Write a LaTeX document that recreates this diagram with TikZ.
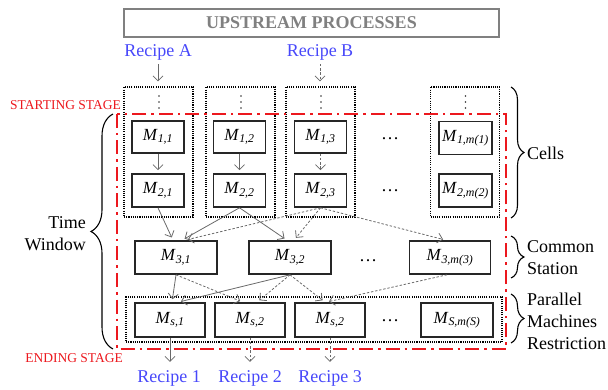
\documentclass[tikz,border=0pt]{standalone}
\usepackage{fontspec}
\setmainfont{Liberation Serif}
\usetikzlibrary{arrows.meta,decorations.pathreplacing}
\definecolor{upGray}{RGB}{128,128,128}
\definecolor{recBlue}{RGB}{72,72,250}
\definecolor{stageRed}{RGB}{236,24,30}
\definecolor{linkGray}{RGB}{105,105,105}
\newcommand{\mach}[1]{\textit{M}\textsubscript{\itshape #1}}

\begin{document}
\begin{tikzpicture}[x=1pt,y=-1pt,>={Straight Barb[length=5pt,width=10pt]}]
\tikzset{
mbox/.style={draw=black!85,line width=1.6pt,fill=white,minimum height=33pt,inner sep=0pt,
font=\fontsize{17}{18}\selectfont},
cellbox/.style={draw=black,line width=1.1pt,dash pattern=on 1.1pt off 1.1pt,
minimum width=69pt,minimum height=130pt,inner sep=0pt},
recipe/.style={text=recBlue,font=\fontsize{18}{20}\selectfont,inner sep=1pt},
stage/.style={text=stageRed,font=\fontsize{13.5}{15}\selectfont,anchor=east,inner sep=0pt},
side/.style={font=\fontsize{18}{22}\selectfont,align=left,anchor=west,inner sep=0pt},
etc/.style={font=\fontsize{18}{20}\selectfont,inner sep=0pt},
link/.style={->,draw=linkGray,line width=.8pt,shorten >=3pt},
dlink/.style={link,dash pattern=on 2.4pt off 1.8pt},
brc/.style={decorate,decoration={brace,amplitude=#1},line width=1.1pt}
}
\useasboundingbox (0,0) rectangle (608,390);

\node[draw=upGray,line width=1.5pt,minimum width=375pt,minimum height=28pt,text=upGray,
font=\bfseries\fontsize{18}{20}\selectfont] (up) at (311.5,23) {UPSTREAM PROCESSES};
\node[recipe] (recA) at (158,52) {Recipe A};
\node[recipe] (recB) at (320,52) {Recipe B};

\foreach \x/\n in {158.5/1,240.5/2,320.5/3,465/4} {
  \node[cellbox] (cell\n) at (\x,152) {};
  \foreach \y in {96,102,108} \fill[black!80] (\x+.5,\y) circle (.9pt);
}
\node[draw=black,line width=1.1pt,dash pattern=on 1.1pt off 1.1pt,minimum width=376pt,
minimum height=45pt,inner sep=0pt] (par) at (314,319.5) {};

\draw[stageRed,line width=2.4pt,dash pattern=on 14pt off 5pt on 2.5pt off 5pt]
  (117,114) rectangle (506,349);
\node[stage] (start) at (121,105) {STARTING STAGE};
\node[stage] (end) at (123,358) {ENDING STAGE};

\foreach \x/\n in {158/1,239.5/2,320.5/3} {
  \node[mbox,minimum width=52pt,minimum height=32pt] (m1\n) at (\x,137) {\mach{1,\n}};
  \node[mbox,minimum width=52pt] (m2\n) at (\x,190.5) {\mach{2,\n}};
}
\node[mbox,minimum width=53pt] (m1m) at (465.5,138) {\mach{1,m(1)}};
\node[mbox,minimum width=53pt] (m2m) at (465.5,190.5) {\mach{2,m(2)}};
\node[etc] (e1) at (390,139) {\ldots};
\node[etc] (e2) at (390,191) {\ldots};

\node[mbox,minimum width=82pt] (m31) at (176,257.5) {\mach{3,1}};
\node[mbox,minimum width=82pt] (m32) at (290,257.5) {\mach{3,2}};
\node[mbox,minimum width=81pt] (m3m) at (450,257.5) {\mach{3,m(3)}};
\node[etc] (e3) at (368,261) {\ldots};

\node[mbox,minimum width=70pt,minimum height=34pt] (ms1) at (170,320) {\mach{s,1}};
\node[mbox,minimum width=70pt,minimum height=34pt] (ms2) at (250,320) {\mach{s,2}};
\node[mbox,minimum width=70pt,minimum height=34pt] (ms3) at (330,320) {\mach{s,2}};
\node[mbox,minimum width=72pt,minimum height=34pt] (msm) at (457,320) {\mach{S,m(S)}};
\node[etc] (e4) at (390,321) {\ldots};

\node[recipe] (rec1) at (169,378) {Recipe 1};
\node[recipe] (rec2) at (250,378) {Recipe 2};
\node[recipe] (rec3) at (330,378) {Recipe 3};

\draw[link,shorten <=3pt,shorten >=5pt] (recA) -- (recA |- cell1.north);
\draw[dlink,shorten <=3pt,shorten >=5pt] (recB) -- (recB |- cell3.north);
\draw[link] (m11) -- (m21);
\draw[link] (m12) -- (m22);
\draw[dlink] (m13) -- (m23);

\draw[link] (m21.south) -- ([xshift=-3pt]m31.north);
\draw[link] (m22.south) -- ([xshift=6pt]m31.north);
\draw[link] (m22.south) -- ([xshift=-3pt]m32.north);
\draw[dlink] (m23.south) -- ([xshift=9pt]m31.north);
\draw[dlink] (m23.south) -- ([xshift=4pt]m32.north);
\draw[dlink] (m23.south) -- ([xshift=-4pt]m3m.north);

\draw[link] (m31.south) -- ([xshift=2pt]ms1.north);
\draw[dlink] (m31.south) -- ([xshift=-7pt]ms2.north);
\draw[link] (m32.south) -- ([xshift=8pt]ms1.north);
\draw[dlink] (m32.south) -- ([xshift=7pt]ms2.north);
\draw[dlink] (m32.south) -- ([xshift=-5pt]ms3.north);
\draw[dlink] ([xshift=-3pt]m3m.south) -- ([xshift=-4pt]ms3.north);

\draw[link,shorten >=7pt] (ms1.south) -- (ms1.south |- rec1.north);
\draw[dlink,shorten >=7pt] (ms2.south) -- (ms2.south |- rec2.north);
\draw[dlink,shorten >=7pt] (ms3.south) -- (ms3.south |- rec3.north);

\draw[brc=13pt] (511,87) -- (511,218);
\draw[brc=13pt] (511,236) -- (511,278);
\draw[brc=13pt] (511,294) -- (511,343);
\draw[brc=22pt] (113,349) -- (113,114);
\node[side] (cells) at (527,153) {Cells};
\node[side] (common) at (527,258) {Common\\Station};
\node[side] (paral) at (527,321.5) {Parallel\\Machines\\Restriction};
\node[side,align=right,anchor=east] (tw) at (86,234) {Time\\Window};
\end{tikzpicture}
\end{document}
